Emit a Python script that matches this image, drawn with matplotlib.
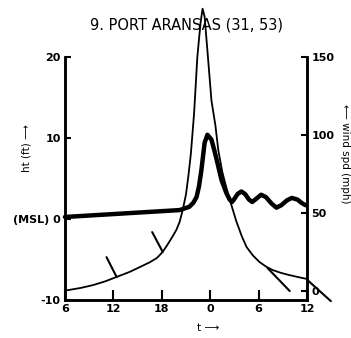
import numpy as np
import matplotlib
matplotlib.use('Agg')
import matplotlib.pyplot as plt

# surge height (ft) vs time (h relative to 0 hr)
surge_t = [-18, -3.8, -2.6, -2.1, -1.7, -1.4, -1.1, -0.7, -0.35, 0.15, 0.5, 0.8, 1.4, 2.0,
           2.4, 2.7, 3.0, 3.4, 3.85, 4.3, 4.8, 5.2, 5.7, 6.3, 6.9, 7.6, 8.2, 8.8, 9.5,
           10.1, 10.8, 11.3, 11.8]
surge_h = [0.25, 1.1, 1.5, 2.0, 2.7, 4.0, 6.0, 9.4, 10.4, 9.8, 8.5, 7.3, 4.8, 3.2,
           2.4, 2.1, 2.5, 3.1, 3.4, 3.1, 2.4, 2.1, 2.5, 3.0, 2.7, 1.9, 1.4, 1.7, 2.3,
           2.6, 2.4, 2.0, 1.7]

# wind speed (mph)
wind_t = [-18, -16, -14.5, -13, -11.6, -10, -8.7, -7.5, -6.6, -5.9, -5.3, -4.7, -4.2, -3.8,
          -3.4, -3.0, -2.7, -2.4, -2.0, -1.6, -1.2, -0.95, -0.7, -0.35, 0.15, 0.64, 1.0,
          1.5, 2.0, 2.5, 3.2, 3.9, 4.5, 5.3, 6.1, 6.9, 7.7, 8.7, 9.8, 10.9, 12.0]
wind_w = [0, 1.8, 3.6, 6.0, 8.8, 12.0, 15.2, 18.2, 21, 24.8, 29.5, 34.5, 39, 44,
          52, 62, 74, 88, 114, 150, 172, 181, 176, 154, 122, 106, 90,
          76, 66, 57, 45, 35, 28, 22.5, 18.4, 15.5, 13.3, 11.5, 10, 8.7, 7.5]

# wind direction barbs
barb_t = [-11.6, -5.9, 7.1, 12.0]
barb_w = [8.8, 25, 14.5, 7.0]
barb_angle = [117, 118, -46, -42]
barb_len = [16, 16, 23, 23]

xticks = [-18, -12, -6, 0, 6, 12]
xticklabels = ['6', '12', '18', '0', '6', '12']
hticks = [-10, 0, 10, 20]
hticklabels = ['-10', '(MSL) 0', '10', '20']
wticks = [0, 50, 100, 150]

plt.rcParams['font.family'] = 'DejaVu Sans'

fig = plt.figure(figsize=(3.51, 3.38), dpi=100)
ax = fig.add_axes([0.185, 0.1124, 0.69, 0.719])
ax2 = ax.twinx()

ax.set_xlim(-18, 12)
ax.set_ylim(-10, 20)
ax2.set_ylim(-6, 150)

ax.plot(surge_t, surge_h, color='black', lw=3.2, solid_joinstyle='round',
        solid_capstyle='round', clip_on=False)
ax2.plot(wind_t, wind_w, color='black', lw=1.3, solid_joinstyle='round', clip_on=False)

for t, w, a, L in zip(barb_t, barb_w, barb_angle, barb_len):
    dx = L * np.cos(np.radians(a))
    dy = L * np.sin(np.radians(a))
    ax2.annotate('', xy=(t, w), xytext=(dx, dy), textcoords='offset points',
                 annotation_clip=False,
                 arrowprops=dict(arrowstyle='-', lw=1.5, color='black',
                                 shrinkA=0, shrinkB=0))

for a in (ax, ax2):
    a.spines['top'].set_visible(False)
    for s in ('left', 'right', 'bottom'):
        a.spines[s].set_linewidth(1.8)

ax.set_xticks(xticks)
ax.set_xticklabels(xticklabels, fontsize=8, fontweight='bold')
ax.tick_params(axis='x', direction='in', length=7, width=1.5, pad=3)
ax.set_yticks(hticks)
ax.set_yticklabels(hticklabels, fontsize=8, fontweight='bold')
ax.tick_params(axis='y', direction='in', length=4, width=1.5, pad=3)
ax2.set_yticks(wticks)
ax2.set_yticklabels([str(v) for v in wticks], fontsize=8, fontweight='bold')
ax2.tick_params(axis='y', direction='in', length=4, width=1.5, pad=3)

ax.set_ylabel('ht (ft) \u27f6', fontsize=7.5)
ax.yaxis.set_label_coords(-0.136, 0.625)
ax2.set_ylabel('\u27f5 wind spd (mph)', fontsize=7.5, rotation=-90, va='center')
ax2.yaxis.set_label_coords(1.155, 0.6)
ax.set_xlabel('t \u27f6', fontsize=7.5)
ax.xaxis.set_label_coords(0.59, -0.095)

fig.text(0.53, 0.925, '9. PORT ARANSAS (31, 53)', ha='center', va='center', fontsize=10.5)

fig.savefig('out.png', dpi=100)
